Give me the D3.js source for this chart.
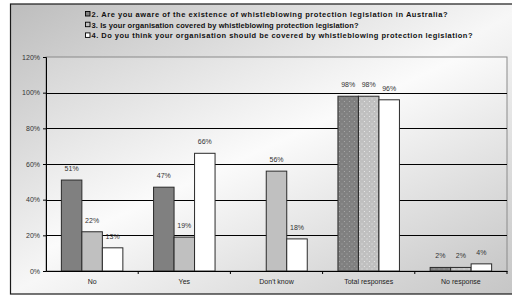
<!DOCTYPE html>
<html>
<head>
<meta charset="utf-8">
<script src="https://cdn.jsdelivr.net/npm/d3@7/dist/d3.min.js"></script>
<style>
  body { margin: 0; background: #fff; }
  svg { display: block; font-family: Arial, "Liberation Sans", sans-serif; }
</style>
</head>
<body>
<svg id="chart" width="512" height="296"></svg>
<script>
const categories = ["No", "Yes", "Don't know", "Total responses", "No response"];
const seriesNames = [
  "2. Are you aware of the existence of whistleblowing protection legislation in Australia?",
  "3. Is your organisation covered by whistleblowing protection legislation?",
  "4. Do you think your organisation should be covered by whistleblowing protection legislation?"
];
const q2Values = [0.51, 0.47, null, 0.98, 0.02];
const q3Values = [0.22, 0.19, 0.56, 0.98, 0.02];
const q4Values = [0.13, 0.66, 0.18, 0.96, 0.04];
const yTicks = [0, 0.2, 0.4, 0.6, 0.8, 1.0, 1.2];
// categories whose first two bars are drawn with a dotted fill
const dottedCats = ["Total responses", "No response"];

const series = [q2Values, q3Values, q4Values];
const fills = ["#808080", "#c0c0c0", "#ffffff"];

const svg = d3.select("#chart");
const defs = svg.append("defs");

// background gradients
const bg = defs.append("linearGradient").attr("id", "bgGrad")
  .attr("x1", 0).attr("y1", 0).attr("x2", 1).attr("y2", 1);
bg.append("stop").attr("offset", "0%").attr("stop-color", "#bdbdbd");
bg.append("stop").attr("offset", "50%").attr("stop-color", "#f7f7f7");
bg.append("stop").attr("offset", "100%").attr("stop-color", "#c4c4c4");

const pg = defs.append("linearGradient").attr("id", "plotGrad")
  .attr("x1", 0).attr("y1", 0).attr("x2", 1).attr("y2", 1);
pg.append("stop").attr("offset", "0%").attr("stop-color", "#d4d4d4");
pg.append("stop").attr("offset", "45%").attr("stop-color", "#fbfbfb");
pg.append("stop").attr("offset", "100%").attr("stop-color", "#c8c8c8");

// dotted patterns
function dots(id, base, dot) {
  const p = defs.append("pattern").attr("id", id)
    .attr("width", 5).attr("height", 5).attr("patternUnits", "userSpaceOnUse");
  p.append("rect").attr("width", 5).attr("height", 5).attr("fill", base);
  p.append("rect").attr("x", 1).attr("y", 1).attr("width", 1).attr("height", 1).attr("fill", dot);
  p.append("rect").attr("x", 3.5).attr("y", 3.5).attr("width", 1).attr("height", 1).attr("fill", dot);
}
dots("dotDark", "#808080", "#a8a8a8");
dots("dotLight", "#c0c0c0", "#e6e6e6");
const dotFills = ["url(#dotDark)", "url(#dotLight)"];

// chart area
svg.append("rect")
  .attr("x", 10.5).attr("y", 4).attr("width", 520).attr("height", 290)
  .attr("fill", "url(#bgGrad)")
  .attr("stroke", "#1a1a1a").attr("stroke-width", 1.2);

const x0 = 46, x1 = 507, yTop = 57, yBot = 271;

const x = d3.scaleBand()
  .domain(categories)
  .range([x0, x1])
  .paddingInner(0.333)
  .paddingOuter(0.1667);

const xs = d3.scaleBand()
  .domain([0, 1, 2])
  .range([0, x.bandwidth()]);

const y = d3.scaleLinear().domain([0, 1.2]).range([yBot, yTop]);

// plot area
svg.append("rect")
  .attr("x", x0).attr("y", yTop).attr("width", x1 - x0).attr("height", yBot - yTop)
  .attr("fill", "url(#plotGrad)")
  .attr("stroke", "#8a8a8a").attr("stroke-width", 1);

// gridlines
svg.append("g")
  .selectAll("line")
  .data(yTicks.filter(d => d > 0 && d < 1.2))
  .join("line")
  .attr("x1", x0).attr("x2", x1)
  .attr("y1", d => Math.round(y(d)) + 0.5).attr("y2", d => Math.round(y(d)) + 0.5)
  .attr("stroke", "#000").attr("stroke-width", 1);

// bars
const groups = svg.append("g")
  .selectAll("g")
  .data(categories)
  .join("g")
  .attr("transform", d => `translate(${x(d)},0)`);

groups.each(function(cat, ci) {
  const g = d3.select(this);
  series.forEach((vals, si) => {
    const v = vals[ci];
    if (v == null) return;
    const fill = (si < 2 && dottedCats.includes(cat)) ? dotFills[si] : fills[si];
    g.append("rect")
      .attr("x", xs(si))
      .attr("y", y(v))
      .attr("width", xs.bandwidth())
      .attr("height", y(0) - y(v))
      .attr("fill", fill)
      .attr("stroke", "#2a2a2a")
      .attr("stroke-width", 1);
    g.append("text")
      .attr("x", xs(si) + xs.bandwidth() / 2)
      .attr("y", y(v) - 9)
      .attr("text-anchor", "middle")
      .attr("font-size", 7)
      .attr("fill", "#333")
      .text(Math.round(v * 100) + "%");
  });
});

// y axis
const yAxis = svg.append("g")
  .attr("transform", `translate(${x0},0)`)
  .call(d3.axisLeft(y).tickValues(yTicks).tickFormat(d3.format(".0%")).tickSize(3).tickPadding(3));
yAxis.select(".domain").attr("stroke", "#000");
yAxis.selectAll(".tick line").attr("stroke", "#000");
yAxis.selectAll("text").attr("font-size", 7).attr("fill", "#333")
  .attr("font-family", "Arial, 'Liberation Sans', sans-serif");

// x axis
const xAxis = svg.append("g")
  .attr("transform", `translate(0,${yBot})`)
  .call(d3.axisBottom(x).tickSize(0).tickPadding(8));
xAxis.select(".domain").attr("stroke", "#000");
xAxis.selectAll("text").attr("font-size", 7).attr("fill", "#222")
  .attr("font-family", "Arial, 'Liberation Sans', sans-serif");
// category boundary ticks
svg.append("g")
  .selectAll("line")
  .data(categories.slice(1).concat(["end"]))
  .join("line")
  .attr("x1", d => d === "end" ? x1 : x(d) - x.step() * x.paddingInner() / 2)
  .attr("x2", d => d === "end" ? x1 : x(d) - x.step() * x.paddingInner() / 2)
  .attr("y1", yBot).attr("y2", yBot + 3)
  .attr("stroke", "#000");

// legend
const legendWidths = [356, 267, 381];
const legend = svg.append("g").attr("transform", "translate(85,10)");
seriesNames.forEach((name, i) => {
  const row = legend.append("g").attr("transform", `translate(0,${i * 10.7})`);
  row.append("rect")
    .attr("x", 0.5).attr("y", 1.5).attr("width", 4.5).attr("height", 4.5)
    .attr("fill", fills[i]).attr("stroke", "#000").attr("stroke-width", 0.9);
  row.append("text")
    .attr("x", 6.5).attr("y", 6.8)
    .attr("font-size", 7.5).attr("font-weight", "bold").attr("fill", "#111")
    .attr("textLength", legendWidths[i])
    .attr("lengthAdjust", "spacing")
    .text(name);
});
</script>
</body>
</html>
